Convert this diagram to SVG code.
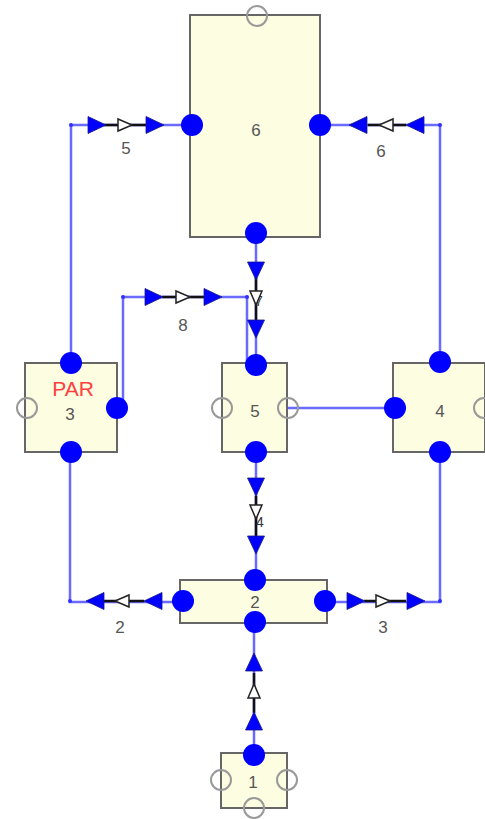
<svg xmlns="http://www.w3.org/2000/svg" xmlns:xlink="http://www.w3.org/1999/xlink" width="485" height="819" viewBox="0 0 485 819">
<style>
.box{fill:#fdfde2;stroke:#666;stroke-width:2}
.port{fill:#0000ff}
.open{fill:none;stroke:#999;stroke-width:2}
.lbl{font-family:"Liberation Sans",Arial,sans-serif;font-size:17px;fill:#555;text-anchor:middle}
.par{font-family:"Liberation Sans",Arial,sans-serif;font-size:21px;fill:#ff4040;text-anchor:middle}
.wire{fill:none;stroke:#6a6aff;stroke-width:2.5}
.blk{stroke:#111;stroke-width:2.5}
.bend{fill:#3030ff}
</style>
<defs>
<path id="af" d="M-9,-8.5 L9,0 L-9,8.5 Z" fill="#0000ff" stroke="#1a1a80" stroke-width="0.8"/>
<path id="ah" d="M-7,-6 L7,0 L-7,6 Z" fill="#fff" stroke="#222" stroke-width="1.5"/>
</defs>
<rect width="485" height="819" fill="#fff"/>
<g id="connectors">
 <g id="c5">
  <path class="wire" d="M71,362 V125 H192"/>
  <line class="blk" x1="104" y1="125" x2="146" y2="125"/>
  <circle class="bend" cx="71" cy="125" r="2"/>
  <use xlink:href="#af" transform="translate(97,125)"/>
  <use xlink:href="#ah" transform="translate(125,125)"/>
  <use xlink:href="#af" transform="translate(155,125)"/>
  <text class="lbl" x="126" y="154">5</text>
 </g>
 <g id="c6">
  <path class="wire" d="M440,362 V125 H320"/>
  <line class="blk" x1="368" y1="125" x2="406" y2="125"/>
  <circle class="bend" cx="440" cy="125" r="2"/>
  <use xlink:href="#af" transform="translate(358,125) rotate(180)"/>
  <use xlink:href="#ah" transform="translate(386,125) rotate(180)"/>
  <use xlink:href="#af" transform="translate(415,125) rotate(180)"/>
  <text class="lbl" x="381" y="157">6</text>
 </g>
 <g id="c8">
  <path class="wire" d="M117,408 H123 V297 H247 V408 H395"/>
  <line class="blk" x1="162" y1="297" x2="204" y2="297"/>
  <circle class="bend" cx="123" cy="297" r="2"/>
  <circle class="bend" cx="247" cy="297" r="2"/>
  <circle class="bend" cx="247" cy="408" r="2"/>
  <use xlink:href="#af" transform="translate(154,297)"/>
  <use xlink:href="#ah" transform="translate(183,297)"/>
  <use xlink:href="#af" transform="translate(213,297)"/>
  <text class="lbl" x="183" y="331">8</text>
 </g>
 <g id="c7">
  <path class="wire" d="M256,233 V365"/>
  <line class="blk" x1="256" y1="278" x2="256" y2="322"/>
  <text class="lbl" x="259" y="306" style="font-size:14px;fill:#333">7</text>
  <use xlink:href="#af" transform="translate(256,271) rotate(90)"/>
  <use xlink:href="#ah" transform="translate(256,298) rotate(90)"/>
  <use xlink:href="#af" transform="translate(256,329) rotate(90)"/>
 </g>
 <g id="c4">
  <path class="wire" d="M256,452 V580"/>
  <line class="blk" x1="256" y1="496" x2="256" y2="536"/>
  <text class="lbl" x="260" y="527" style="font-size:14px;fill:#333">4</text>
  <use xlink:href="#af" transform="translate(256,487) rotate(90)"/>
  <use xlink:href="#ah" transform="translate(256,512) rotate(90)"/>
  <use xlink:href="#af" transform="translate(256,545) rotate(90)"/>
 </g>
 <g id="c2">
  <path class="wire" d="M183,602 H70 V452"/>
  <line class="blk" x1="104" y1="601" x2="144" y2="601"/>
  <circle class="bend" cx="70" cy="601" r="2"/>
  <use xlink:href="#af" transform="translate(95,601) rotate(180)"/>
  <use xlink:href="#ah" transform="translate(122,601) rotate(180)"/>
  <use xlink:href="#af" transform="translate(153,601) rotate(180)"/>
  <text class="lbl" x="120" y="633">2</text>
 </g>
 <g id="c3">
  <path class="wire" d="M325,602 H440 V452"/>
  <line class="blk" x1="364" y1="601" x2="406" y2="601"/>
  <circle class="bend" cx="440" cy="601" r="2"/>
  <use xlink:href="#af" transform="translate(356,601)"/>
  <use xlink:href="#ah" transform="translate(383,601)"/>
  <use xlink:href="#af" transform="translate(416,601)"/>
  <text class="lbl" x="383" y="633">3</text>
 </g>
 <g id="c1">
  <path class="wire" d="M254,755 V622"/>
  <line class="blk" x1="254" y1="673" x2="254" y2="713"/>
  <use xlink:href="#af" transform="translate(254,721) rotate(-90)"/>
  <use xlink:href="#ah" transform="translate(254,691) rotate(-90)"/>
  <use xlink:href="#af" transform="translate(254,662) rotate(-90)"/>
 </g>
</g>
<g id="n6">
 <rect class="box" x="190" y="15" width="130" height="222"/>
 <circle class="open" cx="257" cy="16" r="10"/>
 <text class="lbl" x="256" y="136">6</text>
 <circle class="port" cx="192" cy="125" r="11"/>
 <circle class="port" cx="320" cy="125" r="11"/>
 <circle class="port" cx="256" cy="233" r="11"/>
</g>
<g id="n3">
 <rect class="box" x="25" y="363" width="92" height="89"/>
 <circle class="open" cx="27" cy="408" r="10"/>
 <text class="par" x="73" y="396">PAR</text>
 <text class="lbl" x="70" y="420">3</text>
 <circle class="port" cx="71" cy="363" r="11"/>
 <circle class="port" cx="117" cy="408" r="11"/>
 <circle class="port" cx="71" cy="452" r="11"/>
</g>
<g id="n5">
 <rect class="box" x="222" y="363" width="65" height="89"/>
 <circle class="open" cx="222" cy="408" r="10"/>
 <circle class="open" cx="288" cy="408" r="10"/>
 <text class="lbl" x="255" y="417">5</text>
 <circle class="port" cx="256" cy="365" r="11"/>
 <circle class="port" cx="256" cy="452" r="11"/>
</g>
<g id="n4">
 <rect class="box" x="393" y="363" width="92" height="89"/>
 <circle class="open" cx="484" cy="408" r="10"/>
 <text class="lbl" x="440" y="417">4</text>
 <circle class="port" cx="395" cy="408" r="11"/>
 <circle class="port" cx="440" cy="362" r="11"/>
 <circle class="port" cx="440" cy="452" r="11"/>
</g>
<g id="n2">
 <rect class="box" x="180" y="580" width="147" height="43"/>
 <text class="lbl" x="255" y="608">2</text>
 <circle class="port" cx="255" cy="580" r="11"/>
 <circle class="port" cx="255" cy="622" r="11"/>
 <circle class="port" cx="183" cy="601" r="11"/>
 <circle class="port" cx="325" cy="601" r="11"/>
</g>
<g id="n1">
 <rect class="box" x="221" y="753" width="66" height="55"/>
 <circle class="open" cx="221" cy="780" r="10"/>
 <circle class="open" cx="287" cy="780" r="10"/>
 <circle class="open" cx="254" cy="808" r="10"/>
 <text class="lbl" x="253" y="788">1</text>
 <circle class="port" cx="254" cy="755" r="11"/>
</g>
</svg>
